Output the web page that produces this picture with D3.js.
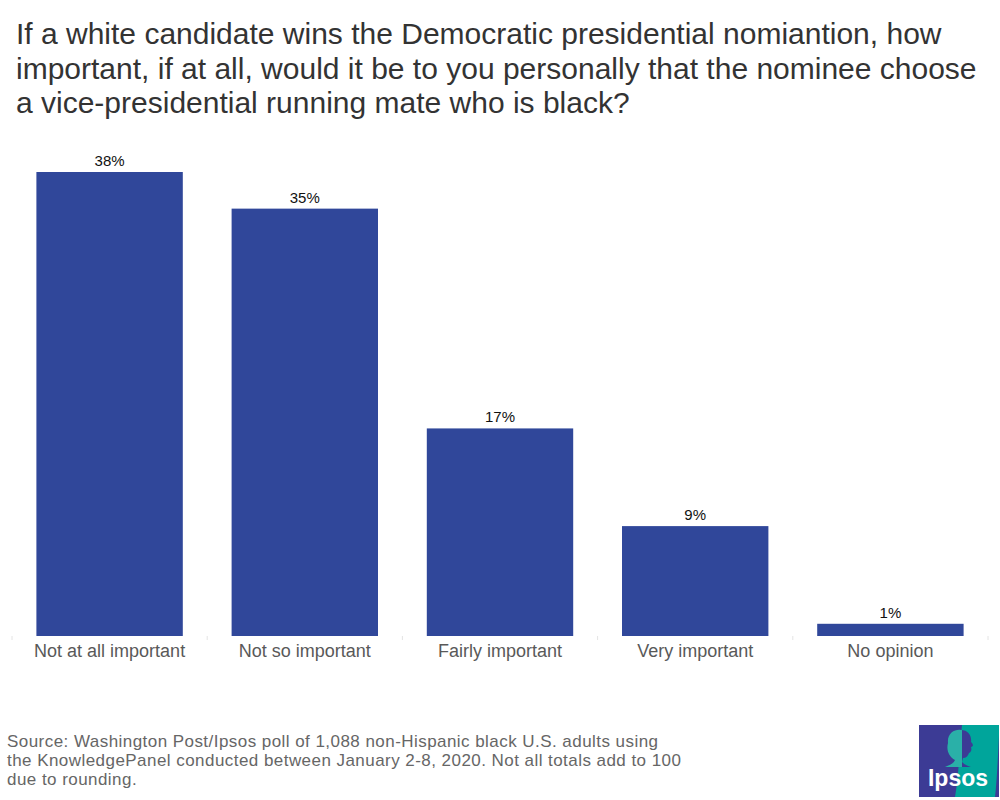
<!DOCTYPE html>
<meta charset="utf-8" />
<style>
  body { margin: 0; background: #fff; }
  svg { font-family: Arial, "Liberation Sans", sans-serif; }
</style>
<body>
  <svg id="chart" width="1000" height="800"></svg>
</body>
<script src="https://d3js.org/d3.v7.min.js"></script>
<script>
  // chart data
  const categories = ["Not at all important", "Not so important", "Fairly important", "Very important", "No opinion"];
  const values = [38, 35, 17, 9, 1];
  const titleLines = [
    "If a white candidate wins the Democratic presidential nomiantion, how",
    "important, if at all, would it be to you personally that the nominee choose",
    "a vice-presidential running mate who is black?"
  ];
  const sourceLines = [
    "Source: Washington Post/Ipsos poll of 1,088 non-Hispanic black U.S. adults using",
    "the KnowledgePanel conducted between January 2-8, 2020. Not all totals add to 100",
    "due to rounding."
  ];

  const svg = d3.select("#chart");

  // title
  svg.append("g")
    .selectAll("text")
    .data(titleLines)
    .join("text")
    .attr("x", 16)
    .attr("y", (d, i) => 44 + i * 34.5)
    .attr("fill", "#333")
    .style("font-size", "30px")
    .text(d => d);

  // scales
  const x = d3.scaleBand()
    .domain(categories)
    .range([12, 988])
    .paddingInner(0.25)
    .paddingOuter(0.125);

  const y = d3.scaleLinear().domain([0, 38]).range([636, 172]);

  // bars
  svg.append("g")
    .selectAll("rect")
    .data(values)
    .join("rect")
    .attr("x", (d, i) => x(categories[i]))
    .attr("y", d => y(d))
    .attr("width", x.bandwidth())
    .attr("height", d => y(0) - y(d))
    .attr("fill", "#30479a");

  // value labels
  svg.append("g")
    .selectAll("text")
    .data(values)
    .join("text")
    .attr("x", (d, i) => x(categories[i]) + x.bandwidth() / 2)
    .attr("y", d => y(d) - 6)
    .attr("text-anchor", "middle")
    .attr("fill", "#111")
    .style("font-size", "15px")
    .text(d => d + "%");

  // x axis with faint ticks at band edges
  const xAxis = svg.append("g")
    .attr("transform", "translate(0,636)")
    .call(d3.axisBottom(x).tickSize(0).tickPadding(8));
  xAxis.select(".domain").remove();
  xAxis.selectAll("text")
    .attr("fill", "#595959")
    .style("font-size", "18px")
    .style("font-family", "Arial, 'Liberation Sans', sans-serif");

  const edges = categories.map(c => x(c) - x.step() * x.paddingInner() / 2)
    .concat([x(categories[categories.length - 1]) + x.bandwidth() + x.step() * x.paddingInner() / 2]);
  xAxis.selectAll("line.edge")
    .data(edges)
    .join("line")
    .attr("class", "edge")
    .attr("x1", d => d)
    .attr("x2", d => d)
    .attr("y1", 0)
    .attr("y2", 4)
    .attr("stroke", "#e4e4e4");

  // source note
  svg.append("g")
    .selectAll("text")
    .data(sourceLines)
    .join("text")
    .attr("x", 7)
    .attr("y", (d, i) => 747 + i * 19)
    .attr("fill", "#666")
    .style("font-size", "17px")
    .style("letter-spacing", "0.45px")
    .text(d => d);

  // Ipsos logo
  const logo = svg.append("g").attr("transform", "translate(919,725)");
  logo.append("rect").attr("width", 80).attr("height", 72).attr("fill", "#3c3b95");
  logo.append("path")
    .attr("d", "M43,0 L80,0 L80,10 C79,30 78,55 76,72 L36,72 C40,50 40,25 43,0 Z")
    .attr("fill", "#00a59b");

  // head silhouette, split in two colours
  const defs = svg.append("defs");
  defs.append("clipPath").attr("id", "head")
    .append("path")
    .attr("d", "M29,18 C28,8 36,4 42,5 C49,5 53,11 52,17 C54,19 55,21 52,22 C53,25 52,27 50,28 C49,31 47,33 44,33 L43,37 C46,40 49,41 52,42 L26,42 C31,40 35,38 36,35 C30,32 27,25 29,18 Z");
  const head = logo.append("g").attr("clip-path", "url(#head)");
  head.append("rect").attr("x", 20).attr("y", 0).attr("width", 23).attr("height", 45).attr("fill", "#2ab0a8");
  head.append("rect").attr("x", 43).attr("y", 0).attr("width", 20).attr("height", 45).attr("fill", "#3c3b95");

  logo.append("text")
    .attr("x", 39)
    .attr("y", 61)
    .attr("text-anchor", "middle")
    .attr("fill", "#fff")
    .style("font-size", "23px")
    .style("font-weight", "bold")
    .text("Ipsos");
</script>
